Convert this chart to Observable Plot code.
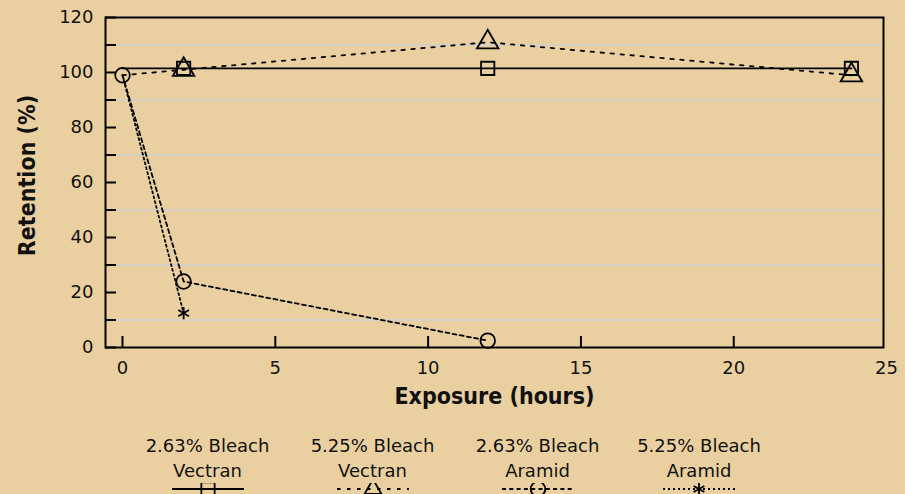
<!DOCTYPE html>
<html>
<head>
<meta charset="utf-8">
<script src="https://cdn.jsdelivr.net/npm/d3@7"></script>
<script src="https://cdn.jsdelivr.net/npm/@observablehq/plot@0.6"></script>
<style>
  html, body { margin: 0; padding: 0; background: #ead0a0; }
  #wrap { width: 905px; height: 494px; position: relative; overflow: hidden; background: #ead0a0; }
  #legend { position: relative; width: 905px; height: 69px; font-family: "DejaVu Sans", sans-serif; font-size: 18px; color: #111; }
  .item { position: absolute; top: 8px; width: 170px; text-align: center; line-height: 25px; }
  .item svg { display: block; margin: 0 auto; }
</style>
</head>
<body>
<div id="wrap">
  <div id="chart"></div>
  <div id="legend"></div>
</div>
<script>
// ---- data ----
const seriesNames = ["2.63% Bleach Vectran", "5.25% Bleach Vectran", "2.63% Bleach Aramid", "5.25% Bleach Aramid"];
const legendLine1 = ["2.63% Bleach", "5.25% Bleach", "2.63% Bleach", "5.25% Bleach"];
const legendLine2 = ["Vectran", "Vectran", "Aramid", "Aramid"];

const vectran263Hours = [0, 2, 11.95, 23.85];
const vectran263Retention = [101.5, 101.5, 101.5, 101.5];
const vectran525Hours = [0, 2, 11.95, 23.85];
const vectran525Retention = [99, 101, 111, 99];
const aramid263Hours = [0, 2, 11.95];
const aramid263Retention = [99, 24, 2.5];
const aramid525Hours = [0, 2];
const aramid525Retention = [99, 12.5];

const xTickValues = [0, 5, 10, 15, 20];
const xTickLabels = [0, 5, 10, 15, 20, 25];
const yTickValues = [0, 10, 20, 30, 40, 50, 60, 70, 80, 90, 100, 110, 120];
const yTickLabels = [0, 20, 40, 60, 80, 100, 120];
const gridValues = [10, 30, 50, 70, 90, 110];

// ---- styles ----
const symbols = ["square", "triangle", "circle", "asterisk"];
const symbolR = [7.5, 8, 7.3, 5.8];
const dashes = ["none", "3.5,6.5", "4,3.3", "2,3"];
const markerFrom = [1, 1, 0, 1]; // first point index that shows a marker

const hoursBySeries = [vectran263Hours, vectran525Hours, aramid263Hours, aramid525Hours];
const retentionBySeries = [vectran263Retention, vectran525Retention, aramid263Retention, aramid525Retention];

const series = seriesNames.map((name, i) =>
  hoursBySeries[i].map((h, j) => ({series: name, idx: j, hours: h, retention: retentionBySeries[i][j]}))
);

const W = 905, H = 425, mT = 17, mB = 78, mL = 105, mR = 22;
const frameW = W - mL - mR, frameH = H - mT - mB;
const font = "DejaVu Sans, sans-serif";
const titleFont = "DejaVu Sans Condensed, DejaVu Sans, sans-serif";

const marks = [
  Plot.ruleY(gridValues, {y: d => d, stroke: "#cfcfcf", strokeWidth: 1.5}),
  Plot.tickX(xTickValues, {x: d => d, insetTop: frameH - 11, stroke: "black", strokeWidth: 2}),
  Plot.tickY(yTickValues, {y: d => d, insetRight: frameW - 11, stroke: "black", strokeWidth: 2}),
  Plot.axisX(xTickLabels, {tickSize: 0, tickPadding: 14, label: null, fontSize: 18, fill: "#111"}),
  Plot.axisY(yTickLabels, {tickSize: 0, tickPadding: 12, label: null, fontSize: 18, fill: "#111"})
];
series.forEach((data, i) => {
  marks.push(Plot.line(data, {x: "hours", y: "retention", stroke: "black", strokeWidth: 1.8, strokeDasharray: dashes[i]}));
});
series.forEach((data, i) => {
  marks.push(Plot.dot(data.filter(d => d.idx >= markerFrom[i]), {
    x: "hours", y: "retention", symbol: () => symbols[i], r: symbolR[i],
    fill: "none", stroke: "black", strokeWidth: 1.8
  }));
});
marks.push(Plot.frame({stroke: "black", strokeWidth: 2}));
marks.push(Plot.text(["Exposure (hours)"], {frameAnchor: "bottom", dy: 56, fontSize: 23, fontWeight: "bold", fontFamily: titleFont, fill: "#111", textAnchor: "middle"}));
marks.push(Plot.text(["Retention (%)"], {frameAnchor: "left", dx: -78, dy: -7, rotate: -90, fontSize: 23, fontWeight: "bold", fontFamily: titleFont, fill: "#111", textAnchor: "middle"}));

const chart = Plot.plot({
  width: W, height: H,
  marginTop: mT, marginBottom: mB, marginLeft: mL, marginRight: mR,
  style: {background: "transparent", fontFamily: font, fontSize: "18px", color: "#111", overflow: "visible"},
  x: {domain: [-0.556, 24.9]},
  y: {domain: [0, 120]},
  symbol: {type: "identity"},
  marks
});
document.getElementById("chart").appendChild(chart);

// ---- legend ----
const legendCenters = [207.5, 372.5, 537.5, 699];
const legend = d3.select("#legend");
const symbolTypes = {square: d3.symbolSquare, triangle: d3.symbolTriangle2, circle: d3.symbolCircle, asterisk: d3.symbolAsterisk};
seriesNames.forEach((name, i) => {
  const item = legend.append("div").attr("class", "item").style("left", (legendCenters[i] - 85) + "px");
  item.append("div").text(legendLine1[i]);
  item.append("div").text(legendLine2[i]);
  const sw = item.append("svg").attr("width", 72).attr("height", 14);
  sw.append("line").attr("x1", 0).attr("x2", 72).attr("y1", 6).attr("y2", 6)
    .attr("stroke", "black").attr("stroke-width", 1.8)
    .attr("stroke-dasharray", dashes[i] === "none" ? null : dashes[i]);
  sw.append("path").attr("transform", "translate(36,6)")
    .attr("d", d3.symbol(symbolTypes[symbols[i]], Math.PI * symbolR[i] * symbolR[i])())
    .attr("fill", "none").attr("stroke", "black").attr("stroke-width", 1.8);
});
</script>
</body>
</html>
